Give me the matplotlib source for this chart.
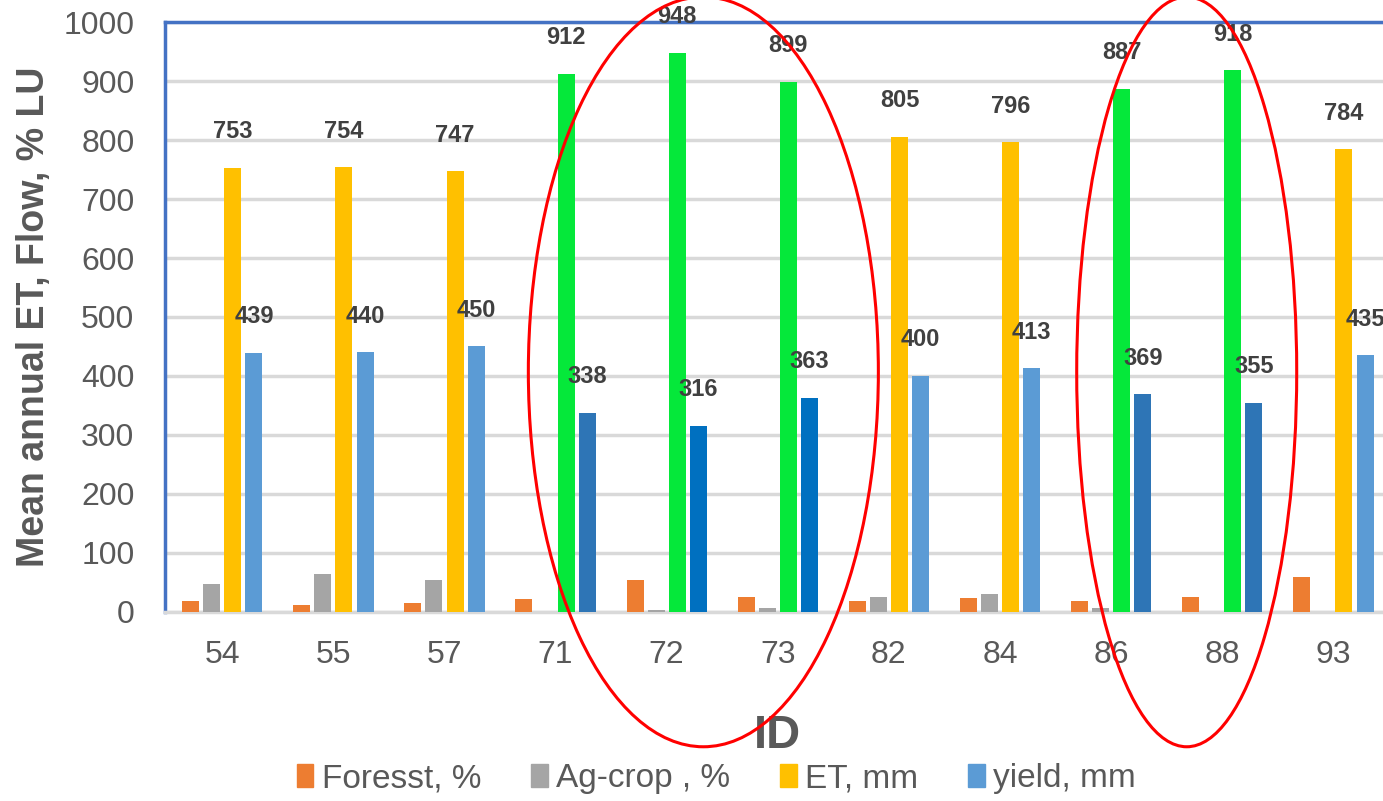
import numpy as np
import matplotlib
matplotlib.use("Agg")
import matplotlib.pyplot as plt
from matplotlib.patches import Ellipse, Patch

plt.rcParams["font.family"] = ["Liberation Sans", "DejaVu Sans"]

ids = ["54", "55", "57", "71", "72", "73", "82", "84", "86", "88", "93"]
forest = [19, 11, 15, 22, 55, 26, 19, 23, 19, 26, 60]
agcrop = [48, 64, 55, 0, 3, 7, 26, 30, 7, 0, 0]
et = [753, 754, 747, 912, 948, 899, 805, 796, 887, 918, 784]
yld = [439, 440, 450, 338, 316, 363, 400, 413, 369, 355, 435]

C_FOR = "#ED7D31"
C_AG = "#A5A5A5"
C_ET = "#FFC000"
C_Y = "#5B9BD5"
C_GREEN = "#05E83A"
# ET / yield colours per catchment (forested ones highlighted)
et_cols = [C_ET, C_ET, C_ET, C_GREEN, C_GREEN, C_GREEN, C_ET, C_ET,
           C_GREEN, C_GREEN, C_ET]
y_cols = [C_Y, C_Y, C_Y, "#2E75B6", "#0070C0", "#0070C0", C_Y, C_Y,
          "#2E75B6", "#2E75B6", C_Y]
TXT = "#595959"

fig = plt.figure(figsize=(13.83, 8.01), dpi=100)
ax = fig.add_axes([0.1193, 0.236, 0.885, 0.7365])

x = np.arange(len(ids))
w, d = 0.153, 0.19
ax.bar(x - 1.5 * d, forest, w, color=C_FOR, zorder=3)
ax.bar(x - 0.5 * d, agcrop, w, color=C_AG, zorder=3)
b_et = ax.bar(x + 0.5 * d, et, w, color=et_cols, zorder=3)
b_y = ax.bar(x + 1.5 * d, yld, w, color=y_cols, zorder=3)

for bars, vals in ((b_et, et), (b_y, yld)):
    for b, v in zip(bars, vals):
        ax.annotate(f"{v}", (b.get_x() + b.get_width() / 2, v),
                    xytext=(0, 26), textcoords="offset points",
                    ha="center", va="center", fontsize=17,
                    fontweight="bold", color="#404040", zorder=5)

ax.set_xlim(-0.515, 10.5)
ax.set_ylim(0, 1000)
ax.set_yticks(np.arange(0, 1001, 100))
ax.set_xticks(x)
ax.set_xticklabels(ids)
ax.tick_params(axis="both", length=0, labelsize=23, labelcolor=TXT)
ax.tick_params(axis="x", pad=20)
ax.tick_params(axis="y", pad=22)
ax.yaxis.grid(True, color="#D9D9D9", lw=2.5, zorder=0)
ax.set_axisbelow(True)
for s in ("left", "top"):
    ax.spines[s].set_color("#4472C4")
    ax.spines[s].set_linewidth(2.5)
ax.spines["right"].set_visible(False)
ax.spines["bottom"].set_color("#D9D9D9")
ax.spines["bottom"].set_linewidth(2.5)

ax.set_ylabel("Mean annual ET, Flow, % LU", fontsize=27, fontweight="bold",
              color=TXT, labelpad=8)
ax.set_xlabel("ID", fontsize=34, fontweight="bold", color=TXT, labelpad=32)

# red circles round the forested catchments
for cx, ew in ((4.33, 3.15), (8.68, 1.98)):
    ax.add_patch(Ellipse((cx, 407), ew, 1271, fill=False, ec="red", lw=2.2,
                         clip_on=False, zorder=6))

handles = [Patch(color=c) for c in (C_FOR, C_AG, C_ET, C_Y)]
fig.legend(handles, ["Foresst, %", "Ag-crop , %", "ET, mm", "yield, mm"],
           loc="center", bbox_to_anchor=(0.518, 0.028), ncol=4, frameon=False,
           fontsize=24, labelcolor=TXT, handlelength=0.5, handleheight=0.7,
           handletextpad=0.25, columnspacing=1.5)

fig.savefig("out.png", dpi=100)
